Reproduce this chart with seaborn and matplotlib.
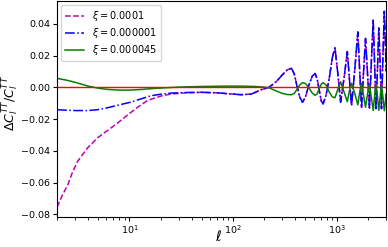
import matplotlib
matplotlib.use("Agg")
import matplotlib.pyplot as plt
import seaborn as sns
import numpy as np
import pandas as pd

# multipoles and relative differences
blue_ell = [2, 3, 4, 5, 6, 8, 10, 13, 16, 20, 25, 35, 50, 70, 90, 120, 150, 186, 222,
            260, 300, 335, 367, 390, 412, 440, 468, 500, 537, 580, 620, 650, 676, 710,
            740, 790, 850, 910, 964, 1030, 1092, 1180, 1268, 1330, 1393, 1500, 1602,
            1670, 1740, 1820, 1900, 1990, 2075, 2160, 2255, 2330, 2400, 2480, 2553,
            2640, 2710, 2800, 2885, 2950, 3000]
blue_val = [-0.0141, -0.0146, -0.0146, -0.0140, -0.0130, -0.0110, -0.0095, -0.0072,
            -0.0053, -0.0043, -0.0036, -0.0032, -0.0031, -0.0034, -0.0040, -0.0046,
            -0.0042, -0.0015, 0.0000, 0.0035, 0.0080, 0.0112, 0.0120, 0.0085, 0.0015,
            -0.0060, -0.0094, -0.0060, 0.0010, 0.0070, 0.0088, 0.0050, -0.0010,
            -0.0085, -0.0104, -0.0050, 0.0060, 0.0190, 0.0250, 0.0080, -0.0094,
            0.0060, 0.0226, 0.0050, -0.0115, 0.0120, 0.0350, 0.0100, -0.0127, 0.0100,
            0.0310, 0.0080, -0.0130, 0.0150, 0.0424, 0.0130, -0.0134, 0.0120, 0.0375,
            0.0120, -0.0134, 0.0200, 0.0480, 0.0300, 0.0100]

# xi = 1e-4 differs only at low ell, then sits on top of the 1e-6 curve
mag_low_ell = [2, 2.25, 2.54, 2.8, 3.16, 3.95, 4.92, 6.14, 7.67, 9.56, 12, 15, 20, 25,
               35, 50]
mag_low_val = [-0.0755, -0.0680, -0.0615, -0.0540, -0.0466, -0.0381, -0.0318, -0.0272,
               -0.0225, -0.0175, -0.0125, -0.0082, -0.0055, -0.0042, -0.0034, -0.0031]

green_ell = [2, 2.5, 3, 4, 5, 6, 8, 10, 13, 16, 20, 30, 50, 80, 120, 160, 200, 222,
             260, 300, 335, 367, 390, 412, 440, 468, 500, 537, 580, 620, 650, 676, 710,
             740, 790, 850, 910, 964, 1030, 1092, 1180, 1268, 1330, 1393, 1500, 1602,
             1670, 1740, 1820, 1900, 1990, 2075, 2160, 2255, 2330, 2400, 2480, 2553,
             2640, 2710, 2800, 2885, 2950, 3000]
green_val = [0.0057, 0.0045, 0.0032, 0.0008, -0.0005, -0.0012, -0.0017, -0.0017,
             -0.0013, -0.0008, -0.0004, 0.0002, 0.0006, 0.0008, 0.0008, 0.0006, 0.0002,
             -0.0002, -0.0022, -0.0038, -0.0045, -0.0046, -0.0038, -0.0015, 0.0015,
             0.0030, 0.0025, 0.0000, -0.0035, -0.0050, -0.0040, -0.0010, 0.0020,
             0.0030, 0.0015, -0.0030, -0.0060, -0.0065, -0.0010, 0.0035, -0.0030,
             -0.0090, -0.0020, 0.0025, -0.0040, -0.0110, -0.0030, 0.0025, -0.0050,
             -0.0125, -0.0040, 0.0020, -0.0060, -0.0145, -0.0050, 0.0020, -0.0060,
             -0.0145, -0.0050, 0.0015, -0.0060, -0.0147, -0.0100, -0.0040]

labels = [r'$\xi = 0.0001$', r'$\xi = 0.000001$', r'$\xi = 0.000045$']

mag_ell = mag_low_ell + [l for l in blue_ell if l >= 70]
mag_val = mag_low_val + [v for l, v in zip(blue_ell, blue_val) if l >= 70]

plt.rcParams['font.size'] = 6.5
fig = plt.figure(figsize=(3.88, 2.47), dpi=100)
ax = fig.add_axes([0.147, 0.123, 0.848, 0.871])

sns.lineplot(x=mag_ell, y=mag_val, ax=ax, color='m', linestyle='--', lw=1.1,
             label=labels[0])
sns.lineplot(x=blue_ell, y=blue_val, ax=ax, color='b', linestyle='-.', lw=1.1,
             label=labels[1])
sns.lineplot(x=green_ell, y=green_val, ax=ax, color='g', linestyle='-', lw=1.1,
             label=labels[2])
ax.axhline(0, color='r', lw=1.0)

ax.set_xscale('log')
ax.set_xlim(2, 3000)
ax.set_ylim(-0.0815, 0.0542)
ax.set_yticks([-0.08, -0.06, -0.04, -0.02, 0.0, 0.02, 0.04])
ax.tick_params(labelsize=6.8, length=3, pad=2)
ax.set_xlabel(r'$\ell$', fontsize=10)
ax.set_ylabel(r'$\Delta C_l^{TT}/C_l^{TT}$', fontsize=9)
ax.xaxis.set_label_coords(0.49, -0.058)
ax.yaxis.set_label_coords(-0.11, 0.53)
ax.legend(loc='upper left', fontsize=7, labelspacing=0.3, borderaxespad=0.4)

fig.savefig('out.png', dpi=100)
